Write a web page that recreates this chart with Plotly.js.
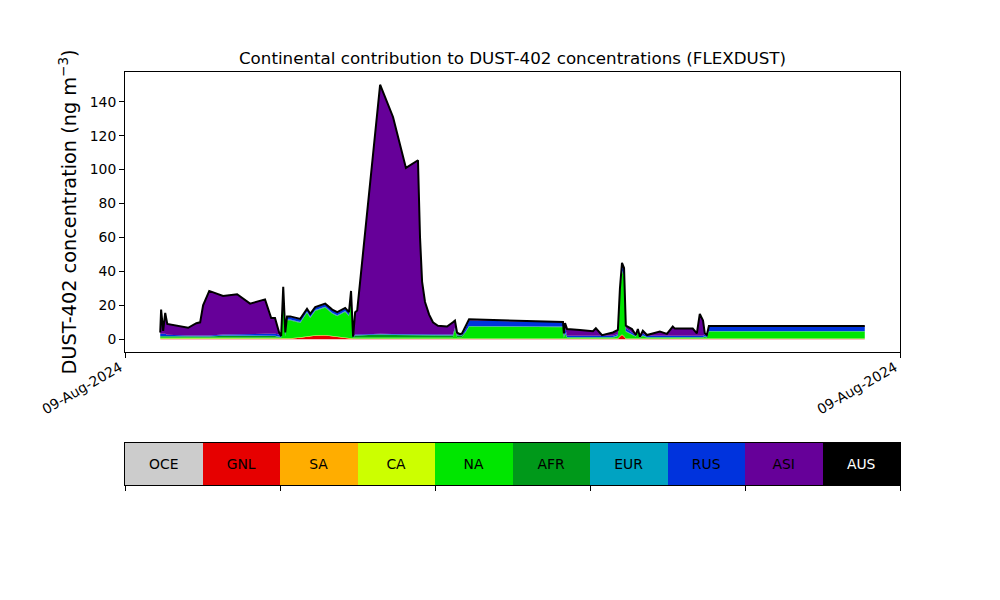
<!DOCTYPE html>
<html>
<head>
<meta charset="utf-8">
<script src="https://cdn.plot.ly/plotly-3.0.1.min.js"></script>
<style>html,body{margin:0;padding:0;background:#fff;}#chart{width:1000px;height:600px;}</style>
</head>
<body>
<div id="chart"></div>
<script>
// time in hours after the first sample (09-Aug-2024)
const time = [0.00,0.03,0.10,0.17,0.24,0.61,0.95,1.23,1.36,1.46,
1.67,2.14,2.62,3.06,3.57,3.78,3.91,4.05,4.12,4.19,
4.26,4.32,4.43,4.77,5.00,5.11,5.28,5.62,5.86,6.03,
6.30,6.43,6.50,6.57,6.64,6.71,7.49,7.93,8.37,8.78,
8.85,8.92,9.02,9.16,9.29,9.46,9.77,9.97,10.04,10.11,
10.21,10.28,10.38,10.52,13.72,13.75,13.79,13.86,14.30,14.74,
14.84,15.05,15.42,15.59,15.66,15.73,15.80,15.86,16.07,16.20,
16.27,16.34,16.44,16.58,17.02,17.26,17.46,17.53,18.14,18.28,
18.38,18.49,18.55,18.62,18.69,24.00];

const regions = ["OCE","GNL","SA","CA","NA","AFR","EUR","RUS","ASI","AUS"];
const regionColors = ["#cccccc","#e60000","#ffad00","#ccff00","#00e600","#00991a","#00a3c2","#0033dd","#660099","#000000"];
const regionTextColors = ["#000","#000","#000","#000","#000","#000","#000","#000","#000","#fff"];

const OCE = [0.05,0.05,0.05,0.05,0.05,0.05,0.05,0.05,0.05,0.05,
0.05,0.05,0.05,0.05,0.05,0.05,0.05,0.05,0.05,0.05,
0.05,0.05,0.05,0.05,0.05,0.05,0.05,0.05,0.05,0.05,
0.05,0.05,0.05,0.05,0.05,0.05,0.05,0.05,0.05,0.05,
0.05,0.05,0.05,0.05,0.05,0.05,0.05,0.05,0.05,0.05,
0.05,0.05,0.05,0.05,0.05,0.05,0.05,0.05,0.05,0.05,
0.05,0.05,0.05,0.05,0.05,0.05,0.05,0.05,0.05,0.05,
0.05,0.05,0.05,0.05,0.05,0.05,0.05,0.05,0.05,0.05,
0.05,0.05,0.05,0.05,0.05,0.05];
const GNL = [0.1,0.1,0.1,0.1,0.1,0.1,0.1,0.1,0.1,0.1,
0.1,0.1,0.1,0.1,0.1,0.1,0.1,0.1,0.1,0.1,
0.1,0.1,0.2,0.8,1.4,1.7,2.0,2.2,1.8,1.3,
0.7,0.4,0.2,0.1,0.1,0.1,0.1,0.1,0.1,0.1,
0.1,0.1,0.1,0.1,0.1,0.1,0.1,0.1,0.1,0.1,
0.1,0.1,0.1,0.1,0.1,0.1,0.1,0.1,0.1,0.1,
0.1,0.1,0.1,0.1,1.5,2.5,1.5,0.1,0.1,0.1,
0.1,0.1,0.1,0.1,0.1,0.1,0.1,0.1,0.1,0.1,
0.1,0.1,0.1,0.1,0.1,0.1];
const SA = [0.15,0.15,0.15,0.15,0.15,0.15,0.15,0.15,0.15,0.15,
0.15,0.15,0.15,0.15,0.15,0.15,0.15,0.15,0.1,0.1,
0.1,0.1,0.1,0.1,0.1,0.1,0.1,0.1,0.1,0.1,
0.1,0.1,0.1,0.1,0.1,0.1,0.1,0.1,0.1,0.1,
0.1,0.1,0.1,0.1,0.1,0.1,0.1,0.1,0.1,0.1,
0.1,0.1,0.1,0.1,0.1,0.1,0.1,0.1,0.1,0.1,
0.1,0.1,0.1,0.1,0.1,0.1,0.1,0.1,0.1,0.1,
0.1,0.1,0.1,0.1,0.1,0.1,0.1,0.1,0.1,0.1,
0.1,0.1,0.1,0.1,0.1,0.1];
const CA = [0.3,0.3,0.3,0.3,0.3,0.3,0.3,0.3,0.3,0.3,
0.3,0.3,0.3,0.3,0.3,0.3,0.3,0.3,0.2,0.2,
0.2,0.2,0.2,0.2,0.2,0.2,0.2,0.2,0.2,0.2,
0.2,0.2,0.2,0.2,0.2,0.2,0.2,0.2,0.2,0.2,
0.2,0.2,0.2,0.2,0.2,0.2,0.2,0.2,0.2,0.2,
0.2,0.2,0.2,0.2,0.2,0.2,0.2,0.2,0.2,0.2,
0.2,0.2,0.2,0.2,0.2,0.2,0.2,0.2,0.2,0.2,
0.2,0.2,0.2,0.2,0.2,0.2,0.2,0.2,0.2,0.2,
0.2,0.2,0.2,0.2,0.2,0.2];
const NA = [0.6,0.6,0.6,0.6,0.5,0.4,0.4,0.4,0.4,0.4,
0.4,0.6,0.6,0.6,0.6,0.5,0.5,0.4,0.3,28.15,
1.15,10.65,10.55,8.45,13.85,10.55,14.25,16.05,12.95,11.95,
15.05,12.85,25.55,0.3,0.8,0.8,0.8,0.8,0.8,0.8,
0.8,0.8,0.8,0.8,0.8,0.8,0.8,0.8,5.0,0.8,
0.8,0.8,3.0,7.0,6.7,0.5,3.0,0.5,0.5,0.5,
0.5,0.5,0.5,1.5,25.0,37.0,35.0,4.0,2.0,1.0,
4.3,0.3,1.5,0.5,0.5,0.5,0.5,0.5,0.5,0.5,
0.5,0.5,1.0,0.5,4.2,4.2];
const AFR = [0.6,0.6,0.6,0.6,0.6,0.6,0.6,0.6,0.6,0.6,
0.6,0.9,0.9,1.0,1.0,0.8,0.8,0.4,0.3,0.3,
0.3,0.3,0.3,0.3,0.3,0.3,0.3,0.3,0.3,0.3,
0.3,0.3,0.3,0.3,1.0,1.0,1.5,1.3,1.2,1.2,
1.0,1.0,1.0,1.0,1.0,1.0,1.0,1.0,1.0,1.0,
1.0,1.0,0.4,0.2,0.2,0.2,0.2,0.2,0.2,0.2,
0.2,0.2,0.2,0.2,0.5,0.5,0.5,0.3,0.2,0.2,
0.2,0.1,0.2,0.2,0.2,0.2,0.2,0.2,0.2,0.2,
0.2,0.2,0.2,0.2,0.1,0.1];
const EUR = [0.2,0.2,0.2,0.2,0.2,0.2,0.2,0.2,0.2,0.2,
0.2,0.2,0.2,0.2,0.2,0.2,0.2,0.2,0.2,0.3,
0.3,0.3,0.3,0.3,0.3,0.3,0.3,0.3,0.3,0.3,
0.3,0.3,0.3,0.1,0.2,0.2,0.2,0.2,0.2,0.2,
0.2,0.2,0.2,0.2,0.2,0.2,0.2,0.2,0.2,0.2,
0.2,0.2,0.2,0.2,0.2,0.2,0.2,0.2,0.2,0.2,
0.2,0.2,0.2,0.2,0.2,0.2,0.2,0.2,0.2,0.2,
0.2,0.2,0.2,0.2,0.2,0.2,0.2,0.2,0.2,0.2,
0.2,0.2,0.2,0.2,0.1,0.1];
const RUS = [1.2,1.2,1.2,1.2,0.8,0.5,0.5,0.5,0.5,0.5,
0.5,0.5,0.5,0.5,0.8,1.2,1.2,1.2,0.6,1.5,
1.5,1.5,1.5,1.5,1.5,1.5,1.5,1.5,1.5,1.5,
1.5,1.5,1.5,0.2,0.3,0.3,0.3,0.3,0.3,0.3,
0.3,0.3,0.3,0.3,0.3,0.3,0.3,0.3,0.3,0.3,
0.3,0.3,1.5,3.2,2.5,0.8,3.0,0.8,0.8,0.8,
0.8,0.8,0.8,0.8,1.5,2.5,2.5,1.5,1.2,0.5,
0.8,0.3,1.0,0.8,0.8,0.8,0.8,0.8,0.8,0.8,
0.8,0.8,1.0,0.8,2.9,2.9];
const ASI = [0.8,14.3,1.8,12.3,6.3,5.7,4.5,7.2,7.7,17.7,
26.2,22.7,23.7,18.1,20.3,9.2,9.2,1.2,0.15,0.3,
0.3,0.3,0.3,0.3,0.3,0.3,0.3,0.3,0.3,0.3,
0.3,0.3,0.3,0.15,13.25,14.25,146.75,127.95,98.05,102.55,
57.25,31.25,19.25,11.75,7.25,5.25,4.75,7.25,4.05,1.25,
0.25,0.75,1.45,0.75,0.15,1.35,2.65,3.85,3.35,2.55,
4.35,0.25,1.85,2.35,0.95,1.95,1.95,1.55,1.95,0.15,
0.05,0.15,1.65,0.35,2.35,1.05,5.35,4.15,4.15,1.35,
12.85,8.85,0.65,0.35,0.05,0.05];
const AUS = [0,0,0,0,0,0,0,0,0,0,
0,0,0,0,0,0,0,0,0,0,
0,0,0,0,0,0,0,0,0,0,
0,0,0,0,0,0,0,0,0,0,
0,0,0,0,0,0,0,0,0,0,
0,0,0,0,0,0,0,0,0,0,
0,0,0,0,0,0,0,0,0,0,
0,0,0,0,0,0,0,0,0,0,
0,0,0,0,0,0];

const yTicks = [0,20,40,60,80,100,120,140];
const xTickLabel = "09-Aug-2024";
const titleText = "Continental contribution to DUST-402 concentrations (FLEXDUST)";
const yTitleText = "DUST-402 concentration (ng m<sup>\u22123</sup>)";

const series = [OCE,GNL,SA,CA,NA,AFR,EUR,RUS,ASI,AUS];
const traces = [];
series.forEach((s, k) => {
  traces.push({
    type: "scatter", mode: "lines", x: time, y: s,
    stackgroup: "dust", line: {width: 0, color: regionColors[k]},
    fillcolor: regionColors[k], name: regions[k], hoverinfo: "skip",
    xaxis: "x", yaxis: "y"
  });
});
const total = time.map((_, i) => series.reduce((a, s) => a + s[i], 0));
traces.push({type: "scatter", mode: "lines", x: time, y: total,
  line: {color: "#000", width: 2}, xaxis: "x", yaxis: "y", hoverinfo: "skip"});

// colour legend strip
traces.push({
  type: "bar", x: regions.map((_, i) => i + 0.5), y: regions.map(() => 1),
  width: regions.map(() => 1), text: regions, textposition: "inside",
  insidetextanchor: "middle", constraintext: "none",
  textfont: {size: 13.9, color: regionTextColors, family: "DejaVu Sans"},
  marker: {color: regionColors, line: {width: 0}},
  xaxis: "x2", yaxis: "y2", hoverinfo: "skip"
});

const xmin = time[0], xmax = time[time.length - 1];
const pad = (xmax - xmin) * 0.05;

const layout = {
  width: 1000, height: 600, showlegend: false,
  paper_bgcolor: "#fff", plot_bgcolor: "#fff",
  font: {family: "DejaVu Sans", size: 13.9, color: "#000"},
  margin: {l: 125, r: 100, t: 72, b: 115},
  title: {text: titleText, font: {size: 16.7, color: "#000"}, x: 0.5125, xanchor: "center",
    yref: "container", y: 0.903, yanchor: "middle"},
  xaxis: {
    domain: [0, 1], anchor: "y", range: [xmin - pad, xmax + pad],
    tickmode: "array", tickvals: [xmin - pad + 1e-6, xmax + pad - 1e-6],
    ticktext: [xTickLabel, xTickLabel], tickangle: -30,
    ticks: "outside", ticklen: 5, tickcolor: "#000", tickfont: {size: 13.9},
    ticklabelshift: -5, ticklabelstandoff: -4,
    showline: true, linecolor: "#000", linewidth: 1, mirror: true,
    showgrid: false, zeroline: false
  },
  yaxis: {
    domain: [0.322, 1], anchor: "x", range: [-7.5, 157.5],
    tickmode: "array", tickvals: yTicks,
    ticks: "outside", ticklen: 5, tickcolor: "#000", tickfont: {size: 13.9},
    showline: true, linecolor: "#000", linewidth: 1, mirror: true,
    showgrid: false, zeroline: false,
    title: {text: yTitleText, font: {size: 19.3}, standoff: 7}
  },
  xaxis2: {
    domain: [0, 1], anchor: "y2", range: [0, 10],
    tickmode: "array", tickvals: [0, 2, 4, 6, 8, 10], showticklabels: false,
    ticks: "outside", ticklen: 5, tickcolor: "#000",
    showline: true, linecolor: "#000", linewidth: 1, mirror: true,
    showgrid: false, zeroline: false, fixedrange: true
  },
  yaxis2: {
    domain: [0, 0.1017], anchor: "x2", range: [0, 1],
    showticklabels: false, ticks: "",
    showline: true, linecolor: "#000", linewidth: 1, mirror: true,
    showgrid: false, zeroline: false, fixedrange: true
  },
  bargap: 0
};

Plotly.newPlot("chart", traces, layout, {staticPlot: true, displayModeBar: false});
</script>
</body>
</html>
